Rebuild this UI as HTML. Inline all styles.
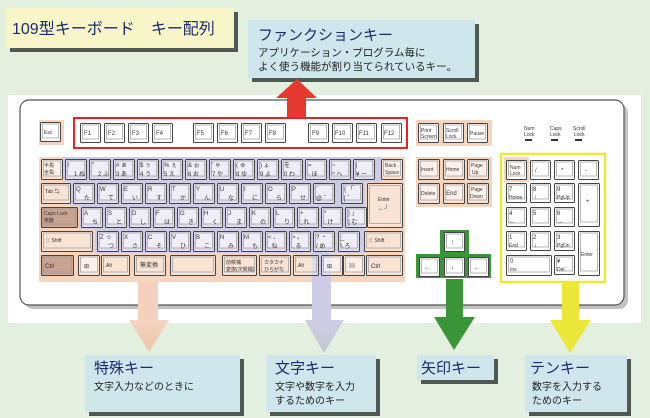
<!DOCTYPE html>
<html><head><meta charset="utf-8"><style>
html,body{margin:0;padding:0;background:#e3efdf;}
svg{display:block;font-family:"Liberation Sans","Noto Sans CJK JP",sans-serif;}
.t{font-size:6px;fill:#333;}
.s{font-size:5px;fill:#333;}
</style></head><body>
<svg width="650" height="418" viewBox="0 0 650 418" xmlns="http://www.w3.org/2000/svg">
<defs>
<symbol id="k" viewBox="0 0 22 21" width="22" height="21"><rect x="0.5" y="0.5" width="21" height="20" rx="1" fill="rgba(255,255,255,0.35)" stroke="#444" stroke-width="1"/><rect x="2.5" y="2" width="17" height="15" fill="rgba(255,255,255,0.5)" stroke="#999" stroke-width="0.7"/></symbol>
<symbol id="f" viewBox="0 0 21 20" width="21" height="20"><rect x="0.5" y="0.5" width="20" height="19" rx="1" fill="#fff" stroke="#444"/><rect x="2.5" y="2" width="16" height="14" fill="#fff" stroke="#999" stroke-width="0.7"/></symbol>
<linearGradient id="gp" x1="0" y1="0" x2="0" y2="1"><stop offset="0" stop-color="#f6d3c2"/><stop offset="1" stop-color="#e9c8a6"/></linearGradient>
<linearGradient id="gv" x1="0" y1="0" x2="0" y2="1"><stop offset="0" stop-color="#d0cde6"/><stop offset="1" stop-color="#c3c9cf"/></linearGradient>
</defs>
<rect width="650" height="418" fill="#e3efdf"/>
<!-- title -->
<rect x="10" y="12" width="228" height="40" fill="#4f5a52"/>
<rect x="6" y="8" width="228" height="40" fill="#f8f6c8"/>
<text x="12" y="34" font-size="16" fill="#1c2a70">109型キーボード　キー配列</text>
<!-- function box -->
<rect x="252" y="24" width="227" height="58" fill="#4f5a52"/>
<rect x="248" y="20" width="227" height="58" fill="#cfe7ec"/>
<text x="258" y="40" font-size="15" fill="#1c2a70">ファンクションキー</text>
<text x="258" y="56" font-size="10.5" fill="#222">アプリケーション・プログラム毎に</text>
<text x="258" y="70" font-size="10.5" fill="#222">よく使う機能が割り当てられているキー。</text>
<!-- white area -->
<rect x="8" y="95" width="633" height="228" fill="#fff"/>
<!-- keyboard body -->
<rect x="24" y="104" width="604" height="205" rx="9" fill="#9a9a9a" opacity="0.6"/>
<rect x="20" y="100" width="604" height="205" rx="9" fill="#fff" stroke="#555" stroke-width="1.2"/>
<!-- red arrow -->
<rect x="287" y="96" width="19" height="21" fill="#e63a30"/>
<polygon points="276,98 297,79 317,98" fill="#e63a30"/>
<!-- peach area -->
<rect x="39" y="120" width="25" height="25" fill="#f6d5bf"/>
<rect x="39" y="157" width="366" height="125" fill="#f6d5bf"/>
<rect x="416" y="120" width="76" height="26" fill="#f6d5bf"/>
<rect x="416" y="157" width="76" height="50" fill="#f6d5bf"/>
<rect x="504" y="157" width="25" height="25" fill="#f6d5bf"/>
<!-- purple area -->
<polygon points="63,157 381,157 381,182 365,182 365,253 360,253 95,253 95,229 79,229 79,206 70,206 70,182 63,182" fill="#cdcbe6"/>
<!-- arrows down -->
<rect x="138" y="282" width="20" height="40" fill="#f4d0bd"/>
<polygon points="129,320 169,320 149,352" fill="url(#gp)"/>
<rect x="312" y="253" width="19" height="69" fill="#cdcbe6"/>
<polygon points="305,320 344,320 324,353" fill="url(#gv)"/>
<rect x="446" y="279" width="17" height="40" fill="#3a9438"/>
<polygon points="434,317 475,317 454,350" fill="#3a9438"/>
<rect x="562" y="283" width="17" height="39" fill="#ece83a"/>
<polygon points="550,320 591,320 570,353" fill="#ece83a"/>
<!-- red box -->
<rect x="74" y="118" width="333" height="30" fill="none" stroke="#e3232a" stroke-width="2"/>
<!-- F keys -->
<use href="#f" x="40" y="122"/><text class="s" x="44" y="134">Esc</text>
<use href="#f" x="80" y="123"/><text class="t" x="84" y="135">F1</text>
<use href="#f" x="104" y="123"/><text class="t" x="108" y="135">F2</text>
<use href="#f" x="128" y="123"/><text class="t" x="132" y="135">F3</text>
<use href="#f" x="152" y="123"/><text class="t" x="156" y="135">F4</text>
<use href="#f" x="193" y="123"/><text class="t" x="197" y="135">F5</text>
<use href="#f" x="217" y="123"/><text class="t" x="221" y="135">F6</text>
<use href="#f" x="241" y="123"/><text class="t" x="245" y="135">F7</text>
<use href="#f" x="265" y="123"/><text class="t" x="269" y="135">F8</text>
<use href="#f" x="308" y="123"/><text class="t" x="312" y="135">F9</text>
<use href="#f" x="332" y="123"/><text class="t" x="335" y="135">F10</text>
<use href="#f" x="356" y="123"/><text class="t" x="359" y="135">F11</text>
<use href="#f" x="381" y="123"/><text class="t" x="384" y="135">F12</text>
<use href="#f" x="418" y="123"/><text class="s" x="421" y="132">Print</text><text class="s" x="421" y="138">Screen</text>
<use href="#f" x="443" y="123"/><text class="s" x="446" y="132">Scroll</text><text class="s" x="446" y="138">Lock</text>
<use href="#f" x="467" y="123"/><text class="s" x="470" y="135">Pause</text>
<!-- indicators -->
<text class="s" x="524" y="130">Num</text><text class="s" x="524" y="136">Lock</text><rect x="525" y="139" width="7" height="2" fill="#333"/>
<text class="s" x="550" y="130">Caps</text><text class="s" x="550" y="136">Lock</text><rect x="551" y="139" width="7" height="2" fill="#333"/>
<text class="s" x="573" y="130">Scroll</text><text class="s" x="574" y="136">Lock</text><rect x="575" y="139" width="7" height="2" fill="#333"/>
<!-- Row1 -->
<use href="#k" x="41" y="159"/><text class="s" x="44" y="167">半角</text><text class="s" x="44" y="174">全角</text>
<use href="#k" x="65" y="159"/><text class="t" x="68" y="167">!</text><text class="t" x="74" y="176">1 ぬ</text>
<use href="#k" x="89" y="159"/><text class="t" x="92" y="167">"</text><text class="t" x="98" y="176">2 ふ</text>
<use href="#k" x="113" y="159"/><text class="t" x="116" y="167"># ぁ</text><text class="t" x="116" y="176">3 あ</text>
<use href="#k" x="137" y="159"/><text class="t" x="140" y="167">$ ぅ</text><text class="t" x="140" y="176">4 う</text>
<use href="#k" x="161" y="159"/><text class="t" x="164" y="167">% ぇ</text><text class="t" x="164" y="176">5 え</text>
<use href="#k" x="185" y="159"/><text class="t" x="188" y="167">&amp; ぉ</text><text class="t" x="188" y="176">6 お</text>
<use href="#k" x="209" y="159"/><text class="t" x="212" y="167">' ゃ</text><text class="t" x="212" y="176">7 や</text>
<use href="#k" x="233" y="159"/><text class="t" x="236" y="167">( ゅ</text><text class="t" x="236" y="176">8 ゆ</text>
<use href="#k" x="257" y="159"/><text class="t" x="260" y="167">) ょ</text><text class="t" x="260" y="176">9 よ</text>
<use href="#k" x="281" y="159"/><text class="t" x="284" y="167">を</text><text class="t" x="284" y="176">0 わ</text>
<use href="#k" x="305" y="159"/><text class="t" x="308" y="167">= </text><text class="t" x="308" y="176">- ほ</text>
<use href="#k" x="329" y="159"/><text class="t" x="332" y="167">~</text><text class="t" x="332" y="176">^ へ</text>
<use href="#k" x="353" y="159"/><text class="t" x="356" y="167">|</text><text class="t" x="356" y="176">¥ ー</text>
<use href="#k" x="381" y="159"/><text class="s" x="385" y="167">Back</text><text class="s" x="385" y="174">Space</text>
<!-- Row2 -->
<g><rect x="41.5" y="183.5" width="29" height="20" rx="1" fill="rgba(255,255,255,.35)" stroke="#444"/><rect x="43.5" y="185" width="25" height="15" fill="none" stroke="#999" stroke-width=".7"/></g><text class="s" x="45" y="193">Tab ⇆</text>
<use href="#k" x="73" y="183"/><text class="t" x="76" y="191">Q</text><text class="t" x="84" y="200">た</text>
<use href="#k" x="97" y="183"/><text class="t" x="100" y="191">W</text><text class="t" x="108" y="200">て</text>
<use href="#k" x="121" y="183"/><text class="t" x="124" y="191">E</text><text class="t" x="132" y="200">い</text>
<use href="#k" x="145" y="183"/><text class="t" x="148" y="191">R</text><text class="t" x="156" y="200">す</text>
<use href="#k" x="169" y="183"/><text class="t" x="172" y="191">T</text><text class="t" x="180" y="200">か</text>
<use href="#k" x="193" y="183"/><text class="t" x="196" y="191">Y</text><text class="t" x="204" y="200">ん</text>
<use href="#k" x="217" y="183"/><text class="t" x="220" y="191">U</text><text class="t" x="228" y="200">な</text>
<use href="#k" x="241" y="183"/><text class="t" x="244" y="191">I</text><text class="t" x="252" y="200">に</text>
<use href="#k" x="265" y="183"/><text class="t" x="268" y="191">O</text><text class="t" x="276" y="200">ら</text>
<use href="#k" x="289" y="183"/><text class="t" x="292" y="191">P</text><text class="t" x="300" y="200">せ</text>
<use href="#k" x="313" y="183"/><text class="t" x="316" y="191">`</text><text class="t" x="316" y="200">@ ゛</text>
<use href="#k" x="341" y="183"/><text class="t" x="344" y="191">{ 「</text><text class="t" x="344" y="200">[ ゜</text>
<g><rect x="367.5" y="183.5" width="35" height="44" rx="1" fill="rgba(255,255,255,.35)" stroke="#444"/><rect x="369.5" y="185.5" width="31" height="38" fill="none" stroke="#999" stroke-width=".7"/></g><text class="s" x="378" y="201">Enter</text><text class="t" x="378" y="210">←┘</text>
<!-- Row3 -->
<g><rect x="41.5" y="207.5" width="36" height="20" rx="1" fill="#c9a493" stroke="#444"/><rect x="43.5" y="209" width="32" height="15" fill="none" stroke="#999" stroke-width=".7"/></g><text class="s" x="44" y="215">Caps Lock</text><text class="s" x="44" y="222">英数</text>
<use href="#k" x="81" y="207"/><text class="t" x="84" y="215">A</text><text class="t" x="92" y="224">ち</text>
<use href="#k" x="105" y="207"/><text class="t" x="108" y="215">S</text><text class="t" x="116" y="224">と</text>
<use href="#k" x="129" y="207"/><text class="t" x="132" y="215">D</text><text class="t" x="140" y="224">し</text>
<use href="#k" x="153" y="207"/><text class="t" x="156" y="215">F</text><text class="t" x="164" y="224">は</text>
<use href="#k" x="177" y="207"/><text class="t" x="180" y="215">G</text><text class="t" x="188" y="224">き</text>
<use href="#k" x="201" y="207"/><text class="t" x="204" y="215">H</text><text class="t" x="212" y="224">く</text>
<use href="#k" x="225" y="207"/><text class="t" x="228" y="215">J</text><text class="t" x="236" y="224">ま</text>
<use href="#k" x="249" y="207"/><text class="t" x="252" y="215">K</text><text class="t" x="260" y="224">の</text>
<use href="#k" x="273" y="207"/><text class="t" x="276" y="215">L</text><text class="t" x="284" y="224">り</text>
<use href="#k" x="297" y="207"/><text class="t" x="300" y="215">+</text><text class="t" x="300" y="224">; れ</text>
<use href="#k" x="321" y="207"/><text class="t" x="324" y="215">*</text><text class="t" x="324" y="224">: け</text>
<use href="#k" x="345" y="207"/><text class="t" x="348" y="215">} 」</text><text class="t" x="348" y="224">] む</text>
<!-- Row4 -->
<g><rect x="41.5" y="231.5" width="51" height="20" rx="1" fill="rgba(255,255,255,.35)" stroke="#444"/><rect x="43.5" y="233" width="47" height="15" fill="none" stroke="#999" stroke-width=".7"/></g><text class="s" x="45" y="242">⇧ Shift</text>
<use href="#k" x="97" y="231"/><text class="t" x="100" y="239">Z っ</text><text class="t" x="108" y="248">つ</text>
<use href="#k" x="121" y="231"/><text class="t" x="124" y="239">X</text><text class="t" x="132" y="248">さ</text>
<use href="#k" x="145" y="231"/><text class="t" x="148" y="239">C</text><text class="t" x="156" y="248">そ</text>
<use href="#k" x="169" y="231"/><text class="t" x="172" y="239">V</text><text class="t" x="180" y="248">ひ</text>
<use href="#k" x="193" y="231"/><text class="t" x="196" y="239">B</text><text class="t" x="204" y="248">こ</text>
<use href="#k" x="217" y="231"/><text class="t" x="220" y="239">N</text><text class="t" x="228" y="248">み</text>
<use href="#k" x="241" y="231"/><text class="t" x="244" y="239">M</text><text class="t" x="252" y="248">も</text>
<use href="#k" x="265" y="231"/><text class="t" x="268" y="239">&lt; 、</text><text class="t" x="268" y="248">, ね</text>
<use href="#k" x="289" y="231"/><text class="t" x="292" y="239">&gt; 。</text><text class="t" x="292" y="248">. る</text>
<use href="#k" x="313" y="231"/><text class="t" x="316" y="239">? ・</text><text class="t" x="316" y="248">/ め</text>
<use href="#k" x="338" y="231"/><text class="t" x="341" y="239">_</text><text class="t" x="341" y="248">\ ろ</text>
<g><rect x="364.5" y="231.5" width="38" height="20" rx="1" fill="rgba(255,255,255,.35)" stroke="#444"/><rect x="366.5" y="233" width="34" height="15" fill="none" stroke="#999" stroke-width=".7"/></g><text class="s" x="368" y="242">⇧ Shift</text>
<!-- Row5 -->
<g><rect x="41.5" y="255.5" width="32" height="20" rx="1" fill="#c9a493" stroke="#444"/><rect x="43.5" y="257" width="28" height="15" fill="none" stroke="#999" stroke-width=".7"/></g><text class="t" x="45" y="268">Ctrl</text>
<use href="#k" x="78" y="255"/><text class="t" x="84" y="268">⊞</text>
<g><rect x="101.5" y="255.5" width="28" height="20" rx="1" fill="rgba(255,255,255,.35)" stroke="#444"/><rect x="103.5" y="257" width="24" height="15" fill="none" stroke="#999" stroke-width=".7"/></g><text class="s" x="106" y="267">Alt</text>
<g><rect x="134.5" y="255.5" width="31" height="20" rx="1" fill="rgba(255,255,255,.35)" stroke="#444"/><rect x="136.5" y="257" width="27" height="15" fill="none" stroke="#999" stroke-width=".7"/></g><text class="t" x="140" y="267">無変換</text>
<g><rect x="170.5" y="255.5" width="45" height="20" rx="1" fill="rgba(255,255,255,.35)" stroke="#444"/><rect x="172.5" y="257" width="41" height="15" fill="none" stroke="#999" stroke-width=".7"/></g>
<g><rect x="222.5" y="255.5" width="34" height="20" rx="1" fill="rgba(255,255,255,.35)" stroke="#444"/><rect x="224.5" y="257" width="30" height="15" fill="none" stroke="#999" stroke-width=".7"/></g><text class="s" x="226" y="264">前候補</text><text class="s" x="226" y="271">変換(次候補)</text>
<g><rect x="259.5" y="255.5" width="31" height="20" rx="1" fill="rgba(255,255,255,.35)" stroke="#444"/><rect x="261.5" y="257" width="27" height="15" fill="none" stroke="#999" stroke-width=".7"/></g><text class="s" x="264" y="264">カタカナ</text><text class="s" x="264" y="271">ひらがな</text>
<g><rect x="293.5" y="255.5" width="25" height="20" rx="1" fill="rgba(255,255,255,.35)" stroke="#444"/><rect x="295.5" y="257" width="21" height="15" fill="none" stroke="#999" stroke-width=".7"/></g><text class="s" x="298" y="267">Alt</text>
<use href="#k" x="321" y="255"/><text class="t" x="327" y="268">⊞</text>
<use href="#k" x="343" y="255"/><text class="t" x="349" y="268">▤</text>
<g><rect x="366.5" y="255.5" width="36" height="20" rx="1" fill="rgba(255,255,255,.35)" stroke="#444"/><rect x="368.5" y="257" width="32" height="15" fill="none" stroke="#999" stroke-width=".7"/></g><text class="t" x="371" y="268">Ctrl</text>
<!-- nav keys -->
<use href="#k" x="418" y="159"/><text class="s" x="421" y="171">Insert</text>
<use href="#k" x="443" y="159"/><text class="s" x="446" y="171">Home</text>
<use href="#k" x="467" y="159"/><text class="s" x="471" y="167">Page</text><text class="s" x="472" y="174">Up</text>
<use href="#k" x="418" y="183"/><text class="s" x="421" y="195">Delete</text>
<use href="#k" x="443" y="183"/><text class="t" x="446" y="195">End</text>
<use href="#k" x="467" y="183"/><text class="s" x="471" y="191">Page</text><text class="s" x="470" y="198">Down</text>
<!-- arrow keys -->
<path d="M440,254 L440,230 L469,230 L469,254 L491,254 L491,278 L416,278 L416,254 Z" fill="#3a9438"/>
<use href="#f" x="444" y="232"/><text class="t" x="451" y="244">↑</text>
<use href="#f" x="419" y="257"/><text class="t" x="424" y="269">←</text>
<use href="#f" x="444" y="257"/><text class="t" x="451" y="269">↓</text>
<use href="#f" x="468" y="257"/><text class="t" x="473" y="269">→</text>
<!-- numpad -->
<rect x="501" y="154" width="104" height="128" fill="none" stroke="#ece83a" stroke-width="2.5"/>
<use href="#f" x="506" y="160"/><text class="s" x="510" y="169">Num</text><text class="s" x="510" y="175">Lock</text>
<use href="#f" x="530" y="160"/><text class="t" x="535" y="172">/</text>
<use href="#f" x="554" y="160"/><text class="t" x="561" y="172">*</text>
<use href="#f" x="578" y="160"/><text class="t" x="585" y="172">-</text>
<use href="#f" x="506" y="183"/><text class="t" x="509" y="191">7</text><text class="s" x="509" y="199">Home</text>
<use href="#f" x="530" y="183"/><text class="t" x="533" y="191">8</text><text class="t" x="534" y="199">↑</text>
<use href="#f" x="554" y="183"/><text class="t" x="557" y="191">9</text><text class="s" x="557" y="199">PgUp</text>
<g><rect x="578.5" y="183.5" width="21" height="43" rx="1" fill="#fff" stroke="#444"/><rect x="580.5" y="185" width="17" height="37" fill="none" stroke="#999" stroke-width=".7"/></g><text class="t" x="586" y="203">+</text>
<use href="#f" x="506" y="207"/><text class="t" x="509" y="215">4</text><text class="t" x="509" y="223">←</text>
<use href="#f" x="530" y="207"/><text class="t" x="533" y="215">5</text>
<use href="#f" x="554" y="207"/><text class="t" x="557" y="215">6</text><text class="t" x="557" y="223">→</text>
<use href="#f" x="506" y="231"/><text class="t" x="509" y="239">1</text><text class="s" x="509" y="247">End</text>
<use href="#f" x="530" y="231"/><text class="t" x="533" y="239">2</text><text class="t" x="534" y="247">↓</text>
<use href="#f" x="554" y="231"/><text class="t" x="557" y="239">3</text><text class="s" x="557" y="247">PgDn</text>
<g><rect x="578.5" y="231.5" width="21" height="44" rx="1" fill="#fff" stroke="#444"/><rect x="580.5" y="233" width="17" height="38" fill="none" stroke="#999" stroke-width=".7"/></g><text class="s" x="581" y="256">Enter</text>
<g><rect x="506.5" y="255.5" width="45" height="20" rx="1" fill="#fff" stroke="#444"/><rect x="508.5" y="257" width="41" height="15" fill="none" stroke="#999" stroke-width=".7"/></g><text class="t" x="510" y="263">0</text><text class="s" x="510" y="271">Ins</text>
<use href="#f" x="554" y="255"/><text class="t" x="557" y="263">¥</text><text class="s" x="557" y="271">Del</text>
<!-- bottom boxes -->
<rect x="89" y="359" width="155" height="57" fill="#4f5a52"/>
<rect x="85" y="355" width="155" height="57" fill="#cfe7ec"/>
<text x="94" y="373" font-size="15" fill="#1c2a70">特殊キー</text>
<text x="94" y="390" font-size="10" fill="#222">文字入力などのときに</text>
<rect x="270" y="359" width="110" height="57" fill="#4f5a52"/>
<rect x="266" y="355" width="110" height="57" fill="#cfe7ec"/>
<text x="275" y="373" font-size="15" fill="#1c2a70">文字キー</text>
<text x="275" y="390" font-size="10" fill="#222">文字や数字を入力</text>
<text x="275" y="404" font-size="10" fill="#222">するためのキー</text>
<rect x="421" y="359" width="77" height="25" fill="#4f5a52"/>
<rect x="417" y="355" width="77" height="25" fill="#cfe7ec"/>
<text x="421" y="373" font-size="15" fill="#1c2a70">矢印キー</text>
<rect x="529" y="359" width="102" height="57" fill="#4f5a52"/>
<rect x="525" y="355" width="102" height="57" fill="#cfe7ec"/>
<text x="530" y="373" font-size="15" fill="#1c2a70">テンキー</text>
<text x="532" y="390" font-size="10" fill="#222">数字を入力する</text>
<text x="532" y="404" font-size="10" fill="#222">ためのキー</text>
</svg>
</body></html>
